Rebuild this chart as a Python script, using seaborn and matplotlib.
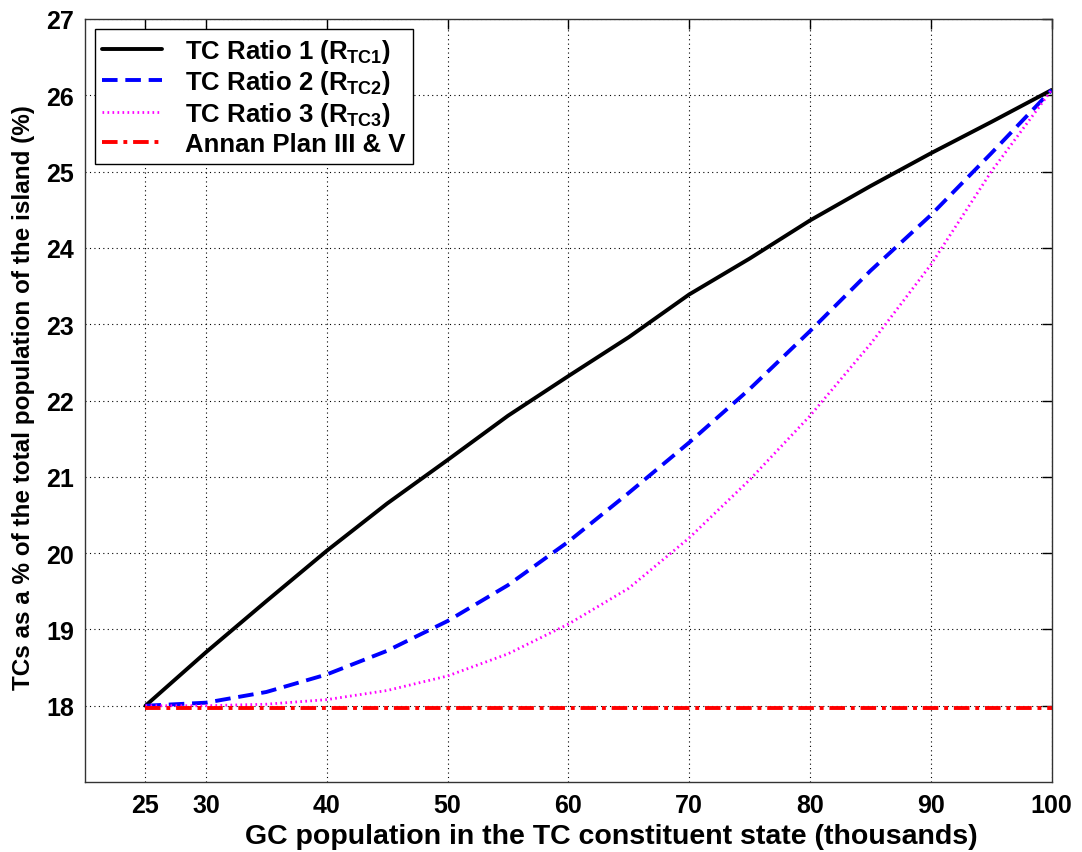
import matplotlib
matplotlib.use("Agg")
import matplotlib.pyplot as plt
import seaborn as sns
import pandas as pd

gc_pop = [25, 30, 35, 40, 45, 50, 55, 60, 65, 70, 75, 80, 85, 90, 95, 100]
ratio1 = [18.0, 18.70, 19.37, 20.03, 20.65, 21.22, 21.80, 22.32, 22.83, 23.39, 23.86, 24.36, 24.81, 25.24, 25.65, 26.07]
ratio2 = [18.0, 18.04, 18.18, 18.41, 18.72, 19.11, 19.58, 20.15, 20.79, 21.45, 22.15, 22.91, 23.70, 24.43, 25.24, 26.07]
ratio3 = [18.0, 18.0, 18.02, 18.08, 18.20, 18.39, 18.68, 19.07, 19.54, 20.20, 20.96, 21.80, 22.74, 23.78, 25.00, 26.07]
annan = [17.97] * len(gc_pop)

labels = [r"TC Ratio 1 (R$_{\mathrm{TC1}}$)", r"TC Ratio 2 (R$_{\mathrm{TC2}}$)",
          r"TC Ratio 3 (R$_{\mathrm{TC3}}$)", "Annan Plan III & V"]
xticks = [25, 30, 40, 50, 60, 70, 80, 90, 100]
yticks = [18, 19, 20, 21, 22, 23, 24, 25, 26, 27]

sns.set_theme(style="white")
plt.rcParams['font.family'] = ['Liberation Sans', 'DejaVu Sans']
plt.rcParams['font.weight'] = 'bold'
plt.rcParams['text.color'] = 'black'
plt.rcParams['axes.labelcolor'] = 'black'
plt.rcParams['xtick.color'] = 'black'
plt.rcParams['ytick.color'] = 'black'
plt.rcParams['mathtext.fontset'] = 'custom'
plt.rcParams['mathtext.rm'] = 'Liberation Sans:bold'
plt.rcParams['mathtext.it'] = 'Liberation Sans:bold'
plt.rcParams['mathtext.bf'] = 'Liberation Sans:bold'

fig = plt.figure(figsize=(10.82, 8.53), dpi=100)
ax = fig.add_axes([0.0786, 0.082, 0.8934, 0.8946])

styles = [
    dict(color="black", linestyle="-", linewidth=2.8),
    dict(color="#0000ff", linestyle=(0, (4, 2)), linewidth=2.8),
    dict(color="#ff00ff", linestyle=(0, (0.6, 1.2)), linewidth=2.0),
    dict(color="#ff0000", linestyle=(0, (4, 1.5, 1, 1.5)), linewidth=2.8),
]
for ys, lab, st in zip([ratio1, ratio2, ratio3, annan], labels, styles):
    df = pd.DataFrame({"x": gc_pop, "y": ys})
    sns.lineplot(data=df, x="x", y="y", ax=ax, label=lab, **st)

ax.set_xlim(20, 100)
ax.set_ylim(17, 27)
ax.set_xticks(xticks)
ax.set_yticks(yticks)
ax.set_xticklabels([str(t) for t in xticks], fontsize=18, fontweight='bold')
ax.set_yticklabels([str(t) for t in yticks], fontsize=18, fontweight='bold')
ax.tick_params(direction='in', length=7, width=1, top=True, right=True, colors='black', pad=8)
ax.grid(True, color='black', linestyle=(0, (1, 3)), linewidth=0.8)
for s in ax.spines.values():
    s.set_color('#333333')
    s.set_linewidth(1.0)
ax.set_xlabel("GC population in the TC constituent state (thousands)", fontsize=20.5, fontweight='bold')
ax.set_ylabel("TCs as a % of the total population of the island (%)", fontsize=17.5, fontweight='bold')
ax.xaxis.set_label_coords(0.544, -0.054)
ax.yaxis.set_label_coords(-0.0515, 0.505)

leg = ax.legend(loc='upper left', bbox_to_anchor=(0.01, 0.987), fontsize=18.5, frameon=True,
                fancybox=False, edgecolor='black', framealpha=1, handlelength=2.3,
                borderpad=0.3, labelspacing=0.15, handletextpad=0.9, borderaxespad=0)
leg.get_frame().set_linewidth(1.0)

fig.savefig("out.png", dpi=100)
